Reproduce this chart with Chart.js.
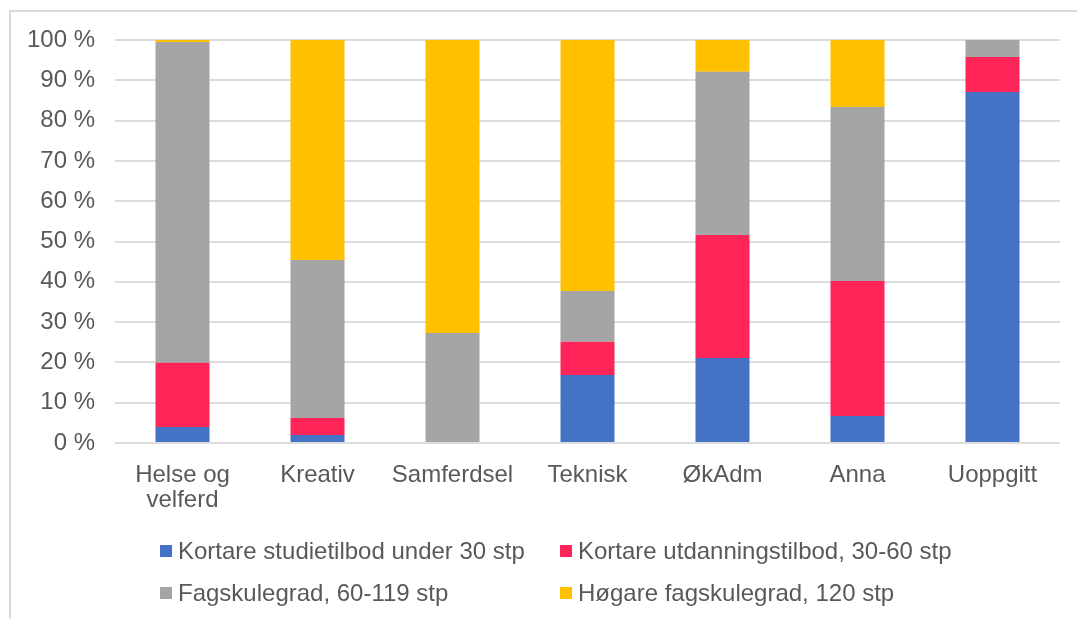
<!DOCTYPE html>
<html>
<head>
<meta charset="utf-8">
<script src="https://cdn.jsdelivr.net/npm/chart.js@4"></script>
<style>
  body { margin:0; background:#fff; font-family:"Liberation Sans", Arial, sans-serif; }
  #wrap { position:relative; width:1077px; height:619px; overflow:hidden; }
  #frame { position:absolute; left:9px; top:10px; width:1080px; height:620px; border-left:2px solid #d9d9d9; border-top:2px solid #d9d9d9; }
  #chartBox { position:absolute; left:0; top:0; width:1077px; height:530px; }
  #legend { position:absolute; left:0; top:0; width:1077px; height:619px; pointer-events:none; }
  .item { position:absolute; display:flex; align-items:center; font-size:24px; color:#595959; white-space:nowrap; }
  .box { width:12px; height:12px; margin-right:6px; }
</style>
</head>
<body>
<div id="wrap">
  <div id="frame"></div>
  <div id="chartBox"><canvas id="chart" width="1077" height="530"></canvas></div>
  <div id="legend"></div>
</div>
<script>
const categories = [["Helse og","velferd"],"Kreativ","Samferdsel","Teknisk","ØkAdm","Anna","Uoppgitt"];
const seriesNames = ["Kortare studietilbod under 30 stp","Kortare utdanningstilbod, 30-60 stp","Fagskulegrad, 60-119 stp","Høgare fagskulegrad, 120 stp"];
const kortareStudie = [4.0, 2.0, 0, 16.9, 21.1, 6.7, 87.1];
const kortareUtdanning = [15.9, 4.2, 0, 8.2, 30.5, 33.5, 8.7];
const fagskulegrad = [79.6, 39.2, 27.3, 12.6, 40.5, 43.2, 4.2];
const hogareGrad = [0.5, 54.6, 72.7, 62.3, 7.9, 16.6, 0];
const yTicks = [0,10,20,30,40,50,60,70,80,90,100];
const colors = ["#4472C4","#FF2559","#A5A5A5","#FFC000"];

const allSeries = [kortareStudie, kortareUtdanning, fagskulegrad, hogareGrad];
const datasets = allSeries.map((vals,i)=>{
  return {
    label: seriesNames[i],
    data: vals,
    backgroundColor: colors[i],
    borderWidth: 0,
    barPercentage: 0.4,
    categoryPercentage: 1.0
  }
});

Chart.defaults.font.family = '"Liberation Sans", Arial, sans-serif';
Chart.defaults.font.size = 24;
Chart.defaults.color = "#595959";

const ctx = document.getElementById("chart").getContext("2d");
const chart = new Chart(ctx, {
  type: "bar",
  data: { labels: categories, datasets: datasets },
  options: {
    responsive: false,
    animation: false,
    layout: { padding: { left:0, top:40, right:17, bottom:0 } },
    plugins: { legend: { display:false }, tooltip: { enabled:false } },
    scales: {
      x: {
        stacked: true,
        grid: { display:false },
        border: { display:false },
        ticks: { padding: 12, maxRotation:0, autoSkip:false, font: { size:24, lineHeight:1.05 } },
        afterFit: function(scale) { scale.height = 87; }
      },
      y: {
        stacked: true,
        min: 0, max: 100,
        afterBuildTicks: function(scale) { scale.ticks = yTicks.map(v=>({value:v})); },
        grid: { color:"#dcdcdc", lineWidth:2, drawTicks:false },
        border: { display:false },
        ticks: { padding: 20, callback: v => v + " %" },
        afterFit: function(scale) { scale.width = 115; }
      }
    }
  }
});

// legend in two columns
const legendPos = [[160,551],[560,551],[160,593],[560,593]];
const legendDiv = document.getElementById("legend");
seriesNames.forEach((name,i)=>{
  const el = document.createElement("div");
  el.className = "item";
  el.style.left = legendPos[i][0] + "px";
  el.style.top = (legendPos[i][1] - 14) + "px";
  el.innerHTML = '<span class="box" style="background:'+colors[i]+'"></span><span>'+name+'</span>';
  legendDiv.appendChild(el);
});
</script>
</body>
</html>
